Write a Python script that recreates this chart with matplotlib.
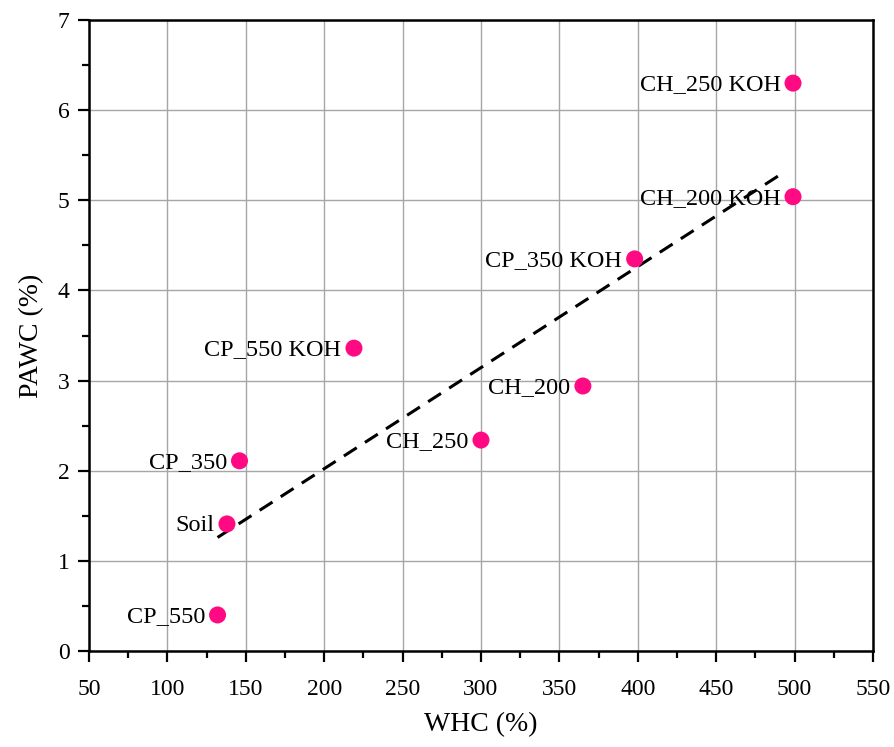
import numpy as np
import matplotlib.pyplot as plt
from matplotlib.ticker import MultipleLocator

plt.rcParams['font.family'] = ['Liberation Serif', 'DejaVu Serif']

samples = ["Soil", "CP_350", "CP_550", "CP_550 KOH", "CH_250",
           "CH_200", "CP_350 KOH", "CH_200 KOH", "CH_250 KOH"]
whc = [138, 146, 132, 219, 300, 365, 398, 499, 499]
pawc = [1.41, 2.11, 0.40, 3.36, 2.34, 2.94, 4.35, 5.04, 6.30]
fit_end = 493

fig = plt.figure(figsize=(8.95, 7.47), dpi=100)
ax = fig.add_axes([0.0994, 0.1285, 0.876, 0.8447])

ax.grid(True, color='#a6a6a6', linewidth=1.0, zorder=0)

# linear fit through the points
k, b = np.polyfit(whc, pawc, 1)
fx = np.array([min(whc), fit_end])
ax.plot(fx, k * fx + b, '--', color='black', linewidth=2.2, dashes=(5, 3.2), zorder=2)

ax.scatter(whc, pawc, s=150, color='#ff0a82', edgecolors='none', zorder=3)

for name, x, y in zip(samples, whc, pawc):
    ax.annotate(name, (x, y), xytext=(-9, -1), textcoords='offset points',
                ha='right', va='center', fontsize=17.5, zorder=4)

ax.set_xlim(50, 550)
ax.set_ylim(0, 7)
ax.xaxis.set_major_locator(MultipleLocator(50))
ax.xaxis.set_minor_locator(MultipleLocator(25))
ax.yaxis.set_major_locator(MultipleLocator(1))
ax.yaxis.set_minor_locator(MultipleLocator(0.5))

ax.tick_params(which='major', direction='out', length=8, width=1.6, labelsize=17)
ax.tick_params(which='minor', direction='out', length=5, width=1.6)
ax.tick_params(axis='x', which='major', pad=12)
ax.tick_params(axis='y', which='major', pad=6)
for s in ax.spines.values():
    s.set_linewidth(1.8)

ax.set_xlabel("WHC (%)", fontsize=20, labelpad=9)
ax.set_ylabel("PAWC (%)", fontsize=20, labelpad=10)

fig.savefig("out.png", dpi=100)
